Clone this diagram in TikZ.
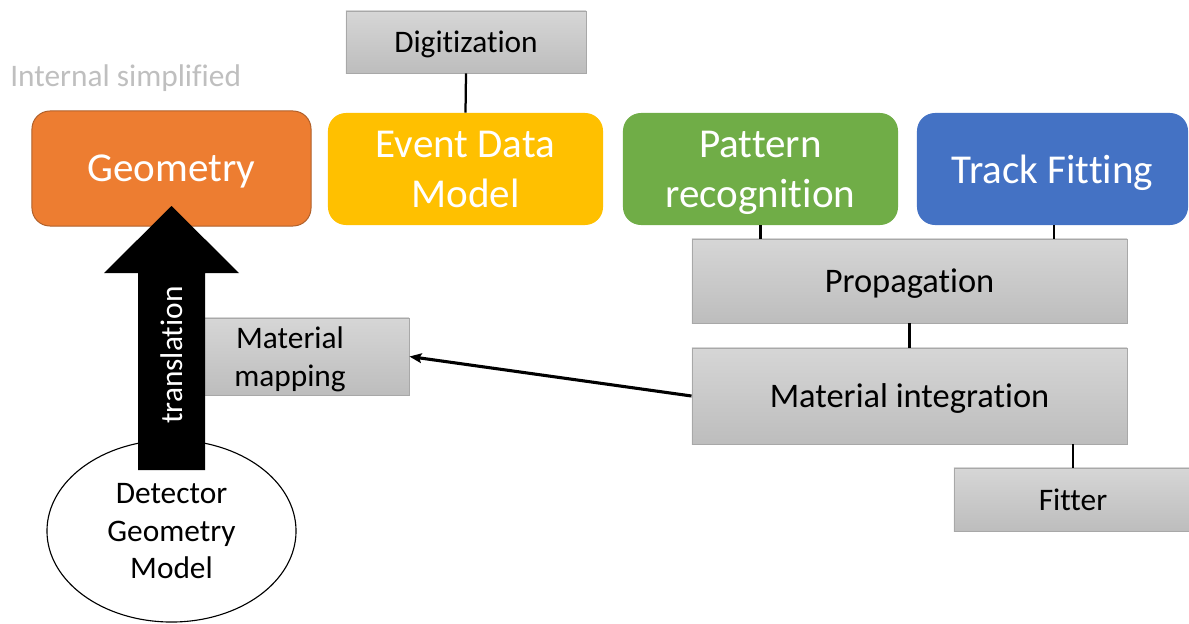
\documentclass[tikz,border=0pt]{standalone}
\usepackage{fontspec}
\setmainfont{Carlito}[Ligatures={NoCommon}]
\usetikzlibrary{shapes.geometric,arrows.meta}

\definecolor{geoorange}{HTML}{ED7D31}
\definecolor{geoedge}{HTML}{B0602A}
\definecolor{edmyellow}{HTML}{FFC000}
\definecolor{patgreen}{HTML}{70AD47}
\definecolor{trackblue}{HTML}{4472C4}
\definecolor{graytop}{HTML}{D6D6D6}
\definecolor{graybot}{HTML}{BDBDBD}
\definecolor{grayedge}{HTML}{A8A8A8}
\definecolor{notegray}{HTML}{BFBFBF}

\newcommand\bigfont{\fontsize{29.2}{35.6}\selectfont}
\newcommand\midfont{\fontsize{24.5}{29}\selectfont}
\newcommand\smallfont{\fontsize{22.3}{26.7}\selectfont}

\begin{document}
\begin{tikzpicture}[x=0.025cm, y=-0.025cm,
  every node/.style={text depth=0pt},
  component/.style={rounded corners=0.45cm, inner sep=0pt, text=white,
    font=\bigfont, align=center, minimum height=2.8cm, minimum width=6.875cm},
  graybox/.style={draw=grayedge, line width=0.6pt, top color=graytop,
    bottom color=graybot, inner sep=0pt, align=center, text=black},
  link/.style={line width=1.6pt, black},
  blockarrow/.style={fill=black}]

\useasboundingbox (0,0) rectangle (1189,624);

% caption in the top left corner
\node[anchor=west, inner sep=0pt, text=notegray, font=\smallfont] (note) at (10,76) {Internal simplified};

% main components
\node[component, fill=geoorange, draw=geoedge, line width=0.7pt,
      minimum width=6.975cm, minimum height=2.875cm] (geo) at (171.5,168.5) {Geometry};
\node[component, fill=edmyellow] (edm) at (465.5,169) {Event Data\\Model};
\node[component, fill=patgreen] (pat) at (760.5,169) {Pattern\\recognition};
\node[component, fill=trackblue, minimum width=6.775cm] (track) at (1052.5,169) {Track Fitting};

% tool boxes
\node[graybox, font=\smallfont, minimum width=6cm, minimum height=1.55cm] (digi) at (466,42) {Digitization};
\node[graybox, font=\midfont, minimum width=10.875cm, minimum height=2.1cm] (prop) at (909.5,281) {Propagation};
\node[graybox, font=\midfont, minimum width=10.875cm, minimum height=2.4cm] (matint) at (909.5,396) {Material integration};
\node[graybox, font=\smallfont, minimum width=5.95cm, minimum height=1.575cm] (fitter) at (1073,499.5) {Fitter};
\node[graybox, font=\smallfont, minimum width=5.95cm, minimum height=1.925cm] (matmap) at (290,356.5) {Material\\mapping};

% detector description
\node[ellipse, draw=black, line width=0.8pt, fill=white, inner sep=0pt,
      minimum width=6.225cm, minimum height=4.55cm, font=\smallfont, align=center]
      (det) at (171.5,531) {Detector\\Geometry\\Model};

% translation block arrow from the detector model up into the geometry
\fill[blockarrow] (138,470) -- (138,273) -- (104,273) -- (171.5,206)
  -- (239,273) -- (205,273) -- (205,470) -- cycle;
\node[rotate=90, text=white, font=\smallfont, inner sep=0pt] (trans) at (171.5,355) {translation};

% connectors
\draw[link] (digi.south) -- (edm.north);
\draw[link] (pat.south) -- (pat.south |- prop.north);
\draw[link] (1054,0 |- track.south) -- (1054,0 |- prop.north);
\draw[link] (prop.south) -- (matint.north);
\draw[link] (fitter.north) -- (fitter.north |- matint.south);
\draw[line width=2.2pt, -{Stealth[length=0.3cm, width=0.24cm, inset=0.05cm]}]
  (matint.west) -- (matmap.east);
\end{tikzpicture}
\end{document}
